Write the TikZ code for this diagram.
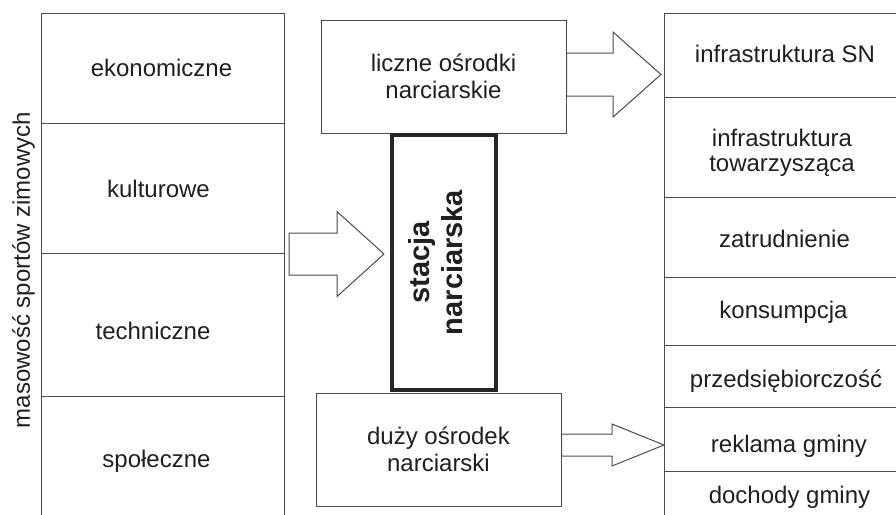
\documentclass[tikz,border=0pt]{standalone}
\usepackage{fontspec}
\setmainfont{Liberation Sans}
\usetikzlibrary{calc}

\tikzset{
	gridline/.style={draw=black!70, line width=.5pt},
	cell/.style={anchor=base, text=black!88, font=\fontsize{12}{13.5}\selectfont},
	box/.style={gridline, minimum width=122.5pt, minimum height=56.5pt,
		inner sep=0pt, align=center, text=black!88,
		font=\fontsize{12}{13.5}\selectfont},
	stationbox/.style={draw=black!85, line width=2pt, minimum width=52pt,
		minimum height=127.5pt, inner sep=0pt, outer sep=0pt},
	arrowline/.style={draw=black!70, line width=.5pt, fill=white, line join=miter}
}

% block arrow: from, to, shaft half width, head half width, head length
\newcommand\fatarrow[5]{%
	\draw[arrowline] let \p1=(#1), \p2=(#2) in
		(\x1,\y1+#3) -- (\x2-#5,\y1+#3) -- (\x2-#5,\y1+#4) -- (\x2,\y1)
		-- (\x2-#5,\y1-#4) -- (\x2-#5,\y1-#3) -- (\x1,\y1-#3) -- cycle;}

\begin{document}
\begin{tikzpicture}[x=.5pt,y=-.5pt]
	\useasboundingbox (0,0) rectangle (896,515);

	% left column
	\draw[gridline] (41,515) -- (41,13) -- (284,13) -- (284,515);
	\foreach \y in {123,253,396}
		\draw[gridline] (41,\y) -- (284,\y);
	\node[cell] (ekon) at (161.5,76) {ekonomiczne};
	\node[cell] (kult) at (158.5,197) {kulturowe};
	\node[cell] (tech) at (153,339) {techniczne};
	\node[cell] (spol) at (156.5,467) {społeczne};
	\node[cell, rotate=90] (masowosc) at (30,270) {masowość sportów zimowych};

	% right column
	\draw[gridline] (896,13) -- (664,13) -- (664,515);
	\foreach \y in {97,197,277,345,407,471}
		\draw[gridline] (664,\y) -- (896,\y);
	\coordinate (rc) at (664,0);
	\node[cell] (infsn) at (785,62) {infrastruktura SN};
	\node[cell, anchor=center, align=center, font=\fontsize{12}{12.5}\selectfont]
		(inftow) at (782,153) {infrastruktura\\towarzysząca};
	\node[cell] (zatr) at (784.5,247) {zatrudnienie};
	\node[cell] (kons) at (783.5,318) {konsumpcja};
	\node[cell] (przed) at (786,387) {przedsiębiorczość};
	\node[cell] (rekl) at (789,452) {reklama gminy};
	\node[cell] (doch) at (789.5,503) {dochody gminy};

	% middle
	\node[box] (liczne) at (443.5,76.5) {liczne ośrodki\\narciarskie};
	\node[box] (duzy) at (438.5,449.5) {duży ośrodek\\narciarski};
	\node[stationbox] (stacja) at (444,262.5) {};
	\node[rotate=90, align=center, text=black!88,
		font=\fontsize{14.5}{16.5}\selectfont\bfseries]
		(stacjatxt) at ([xshift=-4pt]stacja.center) {stacja\\narciarska};

	% arrows
	\coordinate (midtail) at (289,254);
	\fatarrow{[yshift=1pt]liczne.east}{[xshift=-1.5pt]rc}{10.75pt}{21.25pt}{24pt}
	\fatarrow{midtail}{[xshift=-4pt]stacja.west}{10.5pt}{21.25pt}{23.5pt}
	\fatarrow{[yshift=2.25pt]duzy.east}{rc}{5.5pt}{10.5pt}{26pt}
\end{tikzpicture}
\end{document}
